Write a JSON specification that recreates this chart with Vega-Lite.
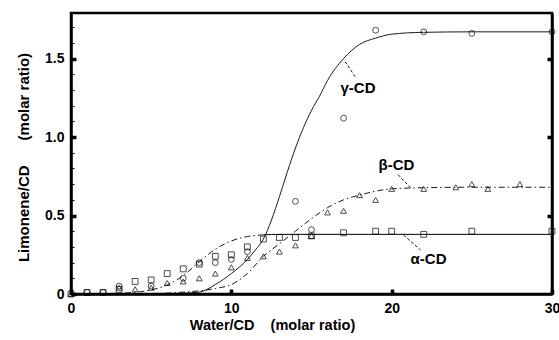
{
  "$schema": "https://vega.github.io/schema/vega-lite/v6.json",
  "width": 481,
  "height": 281,
  "autosize": "none",
  "padding": {"left": 71, "top": 13, "right": 7, "bottom": 46},
  "background": "white",
  "config": {
    "view": {"stroke": "black", "strokeWidth": 2.5},
    "font": "Liberation Sans",
    "axis": {
      "domainColor": "black", "domainWidth": 2.5, "tickColor": "black",
      "grid": false, "labelFont": "Liberation Sans", "labelFontWeight": "bold",
      "labelFontSize": 14, "labelColor": "black",
      "titleFont": "Liberation Sans", "titleFontWeight": "bold", "titleFontSize": 14.5, "titleColor": "black"
    }
  },
  "datasets": {
    "curves": [
      {"curve": "γ", "x": 0, "y": 0}, {"curve": "γ", "x": 4, "y": 0.0}, {"curve": "γ", "x": 6, "y": 0.002},
      {"curve": "γ", "x": 8, "y": 0.012}, {"curve": "γ", "x": 9, "y": 0.06}, {"curve": "γ", "x": 10, "y": 0.13},
      {"curve": "γ", "x": 11, "y": 0.22}, {"curve": "γ", "x": 11.5, "y": 0.28}, {"curve": "γ", "x": 12, "y": 0.35},
      {"curve": "γ", "x": 12.5, "y": 0.47}, {"curve": "γ", "x": 13, "y": 0.62}, {"curve": "γ", "x": 13.5, "y": 0.78},
      {"curve": "γ", "x": 14, "y": 0.93}, {"curve": "γ", "x": 14.5, "y": 1.06}, {"curve": "γ", "x": 15, "y": 1.17},
      {"curve": "γ", "x": 15.5, "y": 1.26}, {"curve": "γ", "x": 16, "y": 1.36}, {"curve": "γ", "x": 17, "y": 1.5},
      {"curve": "γ", "x": 18, "y": 1.59}, {"curve": "γ", "x": 19, "y": 1.63}, {"curve": "γ", "x": 20, "y": 1.655},
      {"curve": "γ", "x": 22, "y": 1.667}, {"curve": "γ", "x": 25, "y": 1.67}, {"curve": "γ", "x": 30, "y": 1.67},
      {"curve": "β", "x": 0, "y": 0}, {"curve": "β", "x": 4, "y": 0.002}, {"curve": "β", "x": 6, "y": 0.006},
      {"curve": "β", "x": 7, "y": 0.012}, {"curve": "β", "x": 8, "y": 0.02}, {"curve": "β", "x": 9, "y": 0.035},
      {"curve": "β", "x": 10, "y": 0.06}, {"curve": "β", "x": 11, "y": 0.13}, {"curve": "β", "x": 12, "y": 0.24},
      {"curve": "β", "x": 13, "y": 0.32}, {"curve": "β", "x": 14, "y": 0.4}, {"curve": "β", "x": 15, "y": 0.48},
      {"curve": "β", "x": 16, "y": 0.55}, {"curve": "β", "x": 17, "y": 0.6}, {"curve": "β", "x": 18, "y": 0.63},
      {"curve": "β", "x": 19, "y": 0.655}, {"curve": "β", "x": 20, "y": 0.67}, {"curve": "β", "x": 22, "y": 0.677},
      {"curve": "β", "x": 25, "y": 0.68}, {"curve": "β", "x": 30, "y": 0.68},
      {"curve": "α", "x": 0, "y": 0}, {"curve": "α", "x": 2, "y": 0.002}, {"curve": "α", "x": 3, "y": 0.005},
      {"curve": "α", "x": 4, "y": 0.011}, {"curve": "α", "x": 5, "y": 0.026}, {"curve": "α", "x": 6, "y": 0.058},
      {"curve": "α", "x": 7, "y": 0.117}, {"curve": "α", "x": 8, "y": 0.205}, {"curve": "α", "x": 9, "y": 0.285},
      {"curve": "α", "x": 10, "y": 0.338}, {"curve": "α", "x": 11, "y": 0.366}, {"curve": "α", "x": 12, "y": 0.377},
      {"curve": "α", "x": 13, "y": 0.38}, {"curve": "α", "x": 14, "y": 0.38}, {"curve": "α", "x": 15, "y": 0.38},
      {"curve": "α", "x": 20, "y": 0.38}, {"curve": "α", "x": 25, "y": 0.38}, {"curve": "α", "x": 30, "y": 0.38}
    ],
    "points": [
      {"cd": "α", "x": 0, "y": 0}, {"cd": "α", "x": 1, "y": 0.01}, {"cd": "α", "x": 2, "y": 0.01},
      {"cd": "α", "x": 3, "y": 0.03}, {"cd": "α", "x": 4, "y": 0.08}, {"cd": "α", "x": 5, "y": 0.09},
      {"cd": "α", "x": 6, "y": 0.13}, {"cd": "α", "x": 7, "y": 0.16}, {"cd": "α", "x": 8, "y": 0.19},
      {"cd": "α", "x": 9, "y": 0.24}, {"cd": "α", "x": 10, "y": 0.25}, {"cd": "α", "x": 11, "y": 0.3},
      {"cd": "α", "x": 12, "y": 0.35}, {"cd": "α", "x": 13, "y": 0.36}, {"cd": "α", "x": 14, "y": 0.36},
      {"cd": "α", "x": 15, "y": 0.37}, {"cd": "α", "x": 17, "y": 0.39}, {"cd": "α", "x": 19, "y": 0.4},
      {"cd": "α", "x": 20, "y": 0.4}, {"cd": "α", "x": 22, "y": 0.38}, {"cd": "α", "x": 25, "y": 0.4},
      {"cd": "α", "x": 30, "y": 0.4},
      {"cd": "β", "x": 0, "y": 0}, {"cd": "β", "x": 3, "y": 0.04}, {"cd": "β", "x": 4, "y": 0.03},
      {"cd": "β", "x": 5, "y": 0.04}, {"cd": "β", "x": 6, "y": 0.07}, {"cd": "β", "x": 7, "y": 0.08},
      {"cd": "β", "x": 8, "y": 0.1}, {"cd": "β", "x": 9, "y": 0.13}, {"cd": "β", "x": 10, "y": 0.17},
      {"cd": "β", "x": 11, "y": 0.23}, {"cd": "β", "x": 12, "y": 0.24}, {"cd": "β", "x": 13, "y": 0.27},
      {"cd": "β", "x": 14, "y": 0.31}, {"cd": "β", "x": 15, "y": 0.37}, {"cd": "β", "x": 16, "y": 0.52},
      {"cd": "β", "x": 17, "y": 0.53}, {"cd": "β", "x": 18, "y": 0.63}, {"cd": "β", "x": 19, "y": 0.6},
      {"cd": "β", "x": 20, "y": 0.67}, {"cd": "β", "x": 22, "y": 0.67}, {"cd": "β", "x": 24, "y": 0.68},
      {"cd": "β", "x": 25, "y": 0.7}, {"cd": "β", "x": 26, "y": 0.67}, {"cd": "β", "x": 28, "y": 0.7},
      {"cd": "γ", "x": 1, "y": 0.01}, {"cd": "γ", "x": 2, "y": 0.01}, {"cd": "γ", "x": 3, "y": 0.05},
      {"cd": "γ", "x": 5, "y": 0.05}, {"cd": "γ", "x": 7, "y": 0.1}, {"cd": "γ", "x": 8, "y": 0.2},
      {"cd": "γ", "x": 9, "y": 0.2}, {"cd": "γ", "x": 10, "y": 0.22}, {"cd": "γ", "x": 11, "y": 0.27},
      {"cd": "γ", "x": 14, "y": 0.59}, {"cd": "γ", "x": 15, "y": 0.41}, {"cd": "γ", "x": 17, "y": 1.12},
      {"cd": "γ", "x": 19, "y": 1.68}, {"cd": "γ", "x": 22, "y": 1.67}, {"cd": "γ", "x": 25, "y": 1.66},
      {"cd": "γ", "x": 30, "y": 1.67}
    ],
    "labels": [
      {"text": "γ-CD", "x": 17.9, "y": 1.31},
      {"text": "β-CD", "x": 20.3, "y": 0.82},
      {"text": "α-CD", "x": 22.3, "y": 0.22}
    ],
    "leaders": [
      {"cd": "γ", "x": 17.1, "y": 1.48, "x2": 17.75, "y2": 1.38},
      {"cd": "β", "x": 20.4, "y": 0.76, "x2": 21.2, "y2": 0.675},
      {"cd": "α", "x": 20.75, "y": 0.375, "x2": 21.8, "y2": 0.28}
    ]
  },
  "resolve": {"scale": {"x": "shared", "y": "shared"}, "axis": {"x": "independent", "y": "independent"}},
  "layer": [
    {
      "data": {"name": "curves"},
      "transform": [{"filter": "datum.curve === 'γ'"}],
      "mark": {"type": "line", "color": "black", "strokeWidth": 0.9, "interpolate": "monotone"},
      "encoding": {
        "x": {"field": "x", "type": "quantitative", "scale": {"domain": [0, 30], "nice": false},
          "axis": {"orient": "bottom", "values": [0, 10, 20, 30], "format": "d", "tickSize": -5, "tickWidth": 3.5, "labelPadding": 12,
            "title": "Water/CD\u00a0\u00a0\u00a0\u00a0(molar ratio)", "titleX": 201, "titleY": 31, "titleBaseline": "middle", "labelFlush": false}},
        "y": {"field": "y", "type": "quantitative", "scale": {"domain": [0, 1.79], "nice": false},
          "axis": {"orient": "left", "values": [0, 0.1, 0.2, 0.3, 0.4, 0.5, 0.6, 0.7, 0.8, 0.9, 1.0, 1.1, 1.2, 1.3, 1.4, 1.5, 1.6, 1.7],
            "labelExpr": "datum.value === 0 ? '0' : (abs(datum.value*2 - round(datum.value*2)) < 0.001 ? format(datum.value, '.1f') : '')",
            "tickSize": {"condition": {"test": "abs(datum.value*2 - round(datum.value*2)) < 0.001", "value": -5}, "value": -3},
            "tickWidth": {"condition": {"test": "abs(datum.value*2 - round(datum.value*2)) < 0.001", "value": 3.5}, "value": 1},
            "labelPadding": 12, "title": "Limonene/CD\u00a0\u00a0\u00a0\u00a0\u00a0\u00a0(molar ratio)", "titleX": -48, "titleY": 144, "titleBaseline": "middle", "titleFontSize": 15}}
      }
    },
    {
      "data": {"name": "curves"},
      "transform": [{"filter": "datum.curve === 'β'"}],
      "mark": {"type": "line", "color": "black", "strokeWidth": 0.9, "strokeDash": [6, 3, 1.5, 3], "interpolate": "monotone"},
      "encoding": {
        "x": {"field": "x", "type": "quantitative", "axis": null},
        "y": {"field": "y", "type": "quantitative", "axis": null}
      }
    },
    {
      "data": {"name": "curves"},
      "transform": [{"filter": "datum.curve === 'α' && datum.x <= 12"}],
      "mark": {"type": "line", "color": "black", "strokeWidth": 0.9, "strokeDash": [6, 3, 1.5, 3], "interpolate": "monotone"},
      "encoding": {
        "x": {"field": "x", "type": "quantitative", "axis": null},
        "y": {"field": "y", "type": "quantitative", "axis": null}
      }
    },
    {
      "data": {"name": "curves"},
      "transform": [{"filter": "datum.curve === 'α' && datum.x >= 12"}],
      "mark": {"type": "line", "color": "black", "strokeWidth": 1, "interpolate": "monotone"},
      "encoding": {
        "x": {"field": "x", "type": "quantitative", "axis": null},
        "y": {"field": "y", "type": "quantitative", "axis": null}
      }
    },
    {
      "data": {"name": "points"},
      "mark": {"type": "point", "filled": false, "stroke": "black", "strokeWidth": 1, "size": 34, "clip": false},
      "encoding": {
        "x": {"field": "x", "type": "quantitative", "axis": null},
        "y": {"field": "y", "type": "quantitative", "axis": null},
        "shape": {"field": "cd", "type": "nominal", "scale": {"domain": ["α", "β", "γ"], "range": ["square", "triangle-up", "circle"]}, "legend": null}
      }
    },
    {
      "data": {"name": "leaders"},
      "mark": {"type": "rule", "color": "black", "strokeWidth": 0.9, "strokeDash": [3, 2]},
      "encoding": {
        "x": {"field": "x", "type": "quantitative", "axis": null},
        "y": {"field": "y", "type": "quantitative",
          "axis": {"orient": "right", "values": [0.5, 1.0, 1.5], "labels": false, "title": null, "tickSize": -5, "tickWidth": 3.5}},
        "x2": {"field": "x2"},
        "y2": {"field": "y2"}
      }
    },
    {
      "data": {"name": "labels"},
      "mark": {"type": "text", "font": "Liberation Sans", "fontWeight": "bold", "fontSize": 15, "color": "black", "align": "center", "baseline": "middle"},
      "encoding": {
        "x": {"field": "x", "type": "quantitative", "axis": null},
        "y": {"field": "y", "type": "quantitative", "axis": null},
        "text": {"field": "text"}
      }
    }
  ]
}
